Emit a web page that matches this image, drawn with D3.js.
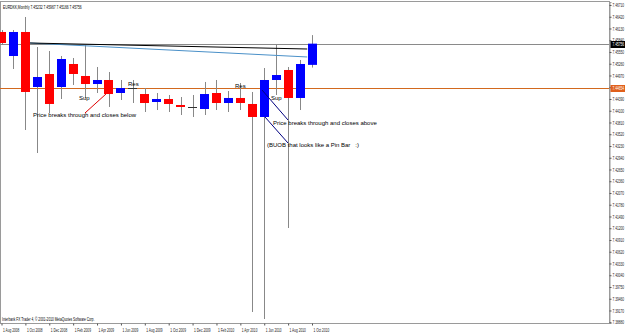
<!DOCTYPE html>
<html><head><meta charset="utf-8">
<script src="https://cdn.jsdelivr.net/npm/d3@7/dist/d3.min.js"></script>
<style>body{margin:0;background:#fff;}svg{display:block;}</style>
</head><body><svg id="c" width="625" height="334"></svg>
<script>
const months = ["Aug 2008","Sep 2008","Oct 2008","Nov 2008","Dec 2008","Jan 2009","Feb 2009","Mar 2009","Apr 2009","May 2009","Jun 2009","Jul 2009","Aug 2009","Sep 2009","Oct 2009","Nov 2009","Dec 2009","Jan 2010","Feb 2010","Mar 2010","Apr 2010","May 2010","Jun 2010","Jul 2010","Aug 2010","Sep 2010","Oct 2010"];
const opens  = [7.46044,7.45451,7.46044,7.44686,7.45007,7.44686,7.45254,7.44958,7.44760,7.44859,7.44538,7.44661,7.44513,7.44316,7.44390,7.44242,7.44193,7.44143,7.44538,7.44291,7.44415,7.44267,7.43946,7.44859,7.45106,7.44415,7.45232];
const highs  = [7.46093,7.46093,7.46414,7.45673,7.45575,7.45451,7.45402,7.45723,7.45180,7.45056,7.44859,7.44859,7.44661,7.44538,7.44489,7.44439,7.44489,7.44810,7.44859,7.44587,7.44785,7.44563,7.45155,7.45747,7.45180,7.45353,7.45967];
const lows   = [7.45723,7.45130,7.43625,7.43057,7.44044,7.44390,7.44736,7.44415,7.44538,7.44193,7.44365,7.44291,7.44069,7.44118,7.44069,7.43995,7.43946,7.43995,7.44118,7.44069,7.44118,7.39133,7.38960,7.44489,7.41206,7.44118,7.45166];
const closes = [7.45772,7.46044,7.44563,7.44933,7.44267,7.45377,7.45007,7.44760,7.44859,7.44513,7.44661,7.44661,7.44291,7.44390,7.44267,7.44193,7.44193,7.44513,7.44291,7.44415,7.44291,7.43946,7.44859,7.44982,7.44415,7.45254,7.45756];
const yTickLabels = ["7.46710","7.46420","7.46130","7.45840","7.45550","7.45260","7.44970","7.44680","7.44390","7.44100","7.43810","7.43520","7.43230","7.42940","7.42650","7.42360","7.42070","7.41780","7.41490","7.41200","7.40910","7.40620","7.40330","7.40040","7.39750","7.39460","7.39170","7.38880"];
const xTickIdx = [0,2,4,6,8,10,12,14,16,18,20,22,24,26];
const xTickLabels = ["1 Aug 2008","1 Oct 2008","1 Dec 2008","1 Feb 2009","1 Apr 2009","1 Jun 2009","1 Aug 2009","1 Oct 2009","1 Dec 2009","1 Feb 2010","1 Apr 2010","1 Jun 2010","1 Aug 2010","1 Oct 2010"];
const trendBlack = [[2.39,7.45772],[25.6,7.45624]];
const trendBlue  = [[2.39,7.45772],[25.6,7.45427]];
const currentPrice = 7.45756;
const levelPrice = 7.44654;
const header = "EURDKK,Monthly  7.45232 7.45967 7.45166 7.45756";
const copyright = "Interbank FX Trader 4, \u00A9 2001-2010 MetaQuotes Software Corp.";

const svg = d3.select("#c");
const L = 0.5, R = 609.5, T = 1.5, B = 323.5;
const x = d3.scaleLinear().domain([0, 26]).range([1.5, 312]);
const y = d3.scaleLinear().domain([7.388614, 7.467840]).range([323, 2]);
const SX = 0.7; // horizontal squeeze of the tiny MT4 labels

svg.append("rect").attr("x", L).attr("y", T).attr("width", R - L).attr("height", B - T)
  .attr("fill", "#fff").attr("stroke", "#9a9a9a");

const plot = svg.append("g");
plot.append("line").attr("x1", 0).attr("x2", R).attr("y1", Math.round(y(currentPrice)) + 0.5).attr("y2", Math.round(y(currentPrice)) + 0.5)
  .attr("stroke", "#8a8a8a").attr("stroke-width", 1);
plot.append("line").attr("x1", 0).attr("x2", R).attr("y1", Math.round(y(levelPrice)) + 0.5).attr("y2", Math.round(y(levelPrice)) + 0.5)
  .attr("stroke", "#d2691e").attr("stroke-width", 1);

const idx = d3.range(months.length);
const g = plot.append("g");
idx.forEach(i => {
  const cx = Math.round(x(i)) + 0.5;
  g.append("line").attr("x1", cx).attr("x2", cx).attr("y1", y(highs[i])).attr("y2", y(lows[i]))
    .attr("stroke", "#888").attr("stroke-width", 1);
});
idx.forEach(i => {
  const o = opens[i], c = closes[i];
  const left = Math.round(x(i) - 4.5);
  if (Math.abs(o - c) < 1e-6) {
    g.append("line").attr("x1", left).attr("x2", left + 9).attr("y1", Math.round(y(o)) + 0.5).attr("y2", Math.round(y(o)) + 0.5)
      .attr("stroke", "#333").attr("stroke-width", 1);
  } else {
    const top = y(Math.max(o, c)), bot = y(Math.min(o, c));
    g.append("rect").attr("x", left).attr("y", top).attr("width", 9).attr("height", Math.max(1, bot - top))
      .attr("fill", c > o ? "#0000ff" : "#ff0000");
  }
});

const ln = d3.line().x(d => x(d[0])).y(d => y(d[1]));
plot.append("path").attr("d", ln(trendBlue)).attr("fill", "none").attr("stroke", "#4a90c8").attr("stroke-width", 1);
plot.append("path").attr("d", ln(trendBlack)).attr("fill", "none").attr("stroke", "#000").attr("stroke-width", 1);

const ann = plot.append("g").attr("font-family", "Liberation Sans, Arial, sans-serif").attr("font-size", 6).attr("fill", "#000");
ann.append("line").attr("x1", x(6.99)).attr("y1", y(7.44044)).attr("x2", x(8.75)).attr("y2", y(7.44513)).attr("stroke", "#e00000");
ann.append("line").attr("x1", 262).attr("y1", 90).attr("x2", 288).attr("y2", 120).attr("stroke", "#000080");
ann.append("line").attr("x1", 265).attr("y1", 117).attr("x2", 288).attr("y2", 143).attr("stroke", "#000080");
ann.append("text").attr("x", 79).attr("y", 99.5).text("Sup");
ann.append("text").attr("x", 128).attr("y", 85.5).text("Res");
ann.append("text").attr("x", 235).attr("y", 88).text("Res");
ann.append("text").attr("x", 271).attr("y", 99.5).text("Sup");
ann.append("text").attr("x", 33).attr("y", 117).text("Price breaks through and closes below");
ann.append("text").attr("x", 273).attr("y", 124.5).text("Price breaks through and closes above");
ann.append("text").attr("x", 267).attr("y", 146.5).text("(BUOB that looks like a Pin Bar\u00A0\u00A0\u00A0:)");

function tiny(parent, tx, ty, str, size, fill) {
  return parent.append("text").attr("transform", `translate(${tx},${ty}) scale(${SX},1)`)
    .attr("text-anchor", "start")
    .attr("font-family", "Liberation Sans, Arial, sans-serif").attr("font-size", size).attr("fill", fill).text(str);
}
tiny(svg, 3, 8.5, header, 4.8, "#000");
tiny(svg, 2, 320.5, copyright, 4.6, "#000");

const ya = svg.append("g").attr("transform", `translate(${R},0)`)
  .call(d3.axisRight(y).tickValues(yTickLabels.map(Number)).tickSize(2).tickFormat(""));
ya.select(".domain").attr("stroke", "#9a9a9a");
ya.selectAll(".tick line").attr("stroke", "#555");
ya.selectAll(".tick").each(function(d, i) {
  tiny(d3.select(this), 3, 1.6, yTickLabels[i], 4.6, "#222");
});

function priceBox(v, bg) {
  const yy = Math.round(y(v));
  svg.append("rect").attr("x", R + 1).attr("y", yy - 3).attr("width", 625 - R - 1).attr("height", 7).attr("fill", bg);
  tiny(svg, R + 3, yy + 1.6, v.toFixed(5), 4.6, "#fff");
}
priceBox(currentPrice, "#000");
priceBox(levelPrice, "#e0601b");

const xa = svg.append("g").attr("transform", `translate(0,${B})`)
  .call(d3.axisBottom(x).tickValues(xTickIdx).tickSize(2).tickFormat(""));
xa.select(".domain").remove();
xa.selectAll(".tick line").attr("stroke", "#555");
xa.selectAll(".tick").each(function(d, i) {
  tiny(d3.select(this), 1, 8, xTickLabels[i], 4.6, "#222");
});
</script></body></html>
